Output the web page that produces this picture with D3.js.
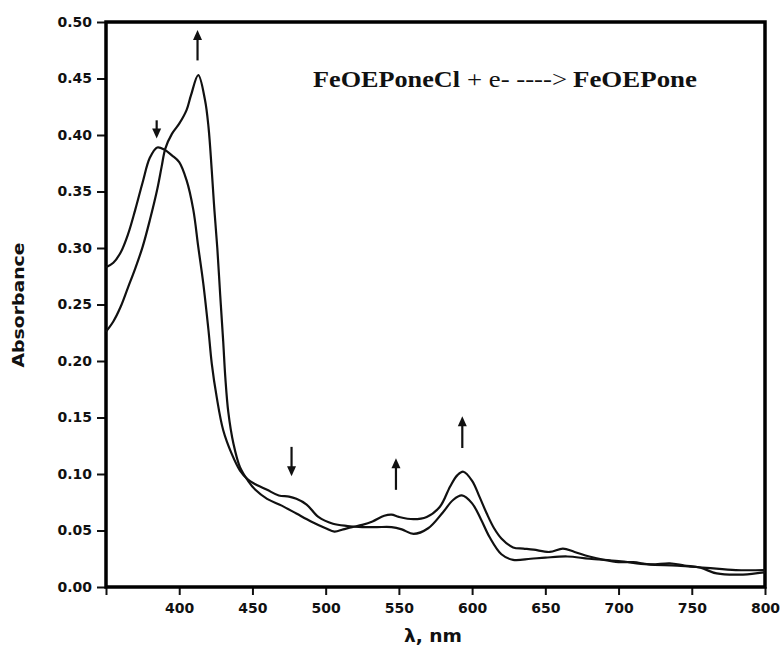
<!DOCTYPE html>
<html>
<head>
<meta charset="utf-8">
<script src="https://cdn.jsdelivr.net/npm/d3@7"></script>
<style>
  html, body { margin: 0; padding: 0; background: #fff; }
  svg { display: block; }
</style>
</head>
<body>
<svg id="chart" width="783" height="647"></svg>
<script>
// Wavelength (nm) and absorbance readings for the two spectra
const startWavelength = [350, 355, 360, 365, 370, 375, 380, 385, 390, 395, 400, 405, 409.6, 413, 416.4, 420, 422.2, 425.6, 430, 435.8, 441.5, 447, 452, 460, 468, 475, 480, 487, 495, 505, 515, 525, 535, 545, 552, 560, 570, 580, 587, 593, 600, 606, 612, 620, 628, 640, 650, 665, 680, 700, 720, 740, 760, 780, 800];
const startAbsorbance = [0.283, 0.287, 0.296, 0.312, 0.334, 0.358, 0.380, 0.389, 0.387, 0.382, 0.376, 0.360, 0.334, 0.301, 0.269, 0.227, 0.198, 0.168, 0.139, 0.118, 0.103, 0.095, 0.091, 0.086, 0.081, 0.080, 0.078, 0.073, 0.062, 0.056, 0.054, 0.053, 0.053, 0.053, 0.051, 0.047, 0.052, 0.066, 0.077, 0.081, 0.074, 0.060, 0.044, 0.029, 0.024, 0.025, 0.026, 0.027, 0.025, 0.023, 0.020, 0.019, 0.017, 0.015, 0.015];

const productWavelength = [350, 355, 360, 365, 370, 375, 380, 385, 388, 390.5, 395, 400, 405, 408, 413, 417.6, 420, 422.2, 424, 426, 428, 430, 431.5, 433.5, 437, 441.5, 447, 452, 460, 470, 480, 490, 500, 506, 512, 518, 525, 532, 540, 545, 550, 560, 569, 578, 585, 590, 594, 600, 605, 610, 615, 620, 628, 635, 642, 653, 662, 670, 680, 690, 700, 710, 722, 735, 745, 756, 767, 785, 800];
const productAbsorbance = [0.226, 0.235, 0.248, 0.265, 0.282, 0.301, 0.325, 0.352, 0.372, 0.388, 0.401, 0.410, 0.422, 0.435, 0.453, 0.431, 0.407, 0.369, 0.334, 0.300, 0.258, 0.218, 0.185, 0.155, 0.127, 0.106, 0.094, 0.086, 0.078, 0.072, 0.065, 0.058, 0.052, 0.049, 0.051, 0.053, 0.055, 0.058, 0.063, 0.064, 0.062, 0.060, 0.062, 0.071, 0.089, 0.099, 0.102, 0.094, 0.080, 0.065, 0.052, 0.043, 0.035, 0.034, 0.033, 0.031, 0.034, 0.031, 0.027, 0.024, 0.022, 0.022, 0.020, 0.021, 0.019, 0.017, 0.012, 0.011, 0.013];

// Arrows marking band changes: wavelength, tail and head absorbance
const arrowWavelength = [384.6, 412.5, 476.7, 548, 593.3];
const arrowTail = [0.413, 0.466, 0.124, 0.086, 0.123];
const arrowHead = [0.397, 0.493, 0.098, 0.114, 0.151];

const xTicks = [350, 400, 450, 500, 550, 600, 650, 700, 750, 800];
const xTickLabels = ["", "400", "450", "500", "550", "600", "650", "700", "750", "800"];
const yTicks = [0, 0.05, 0.10, 0.15, 0.20, 0.25, 0.30, 0.35, 0.40, 0.45, 0.50];

// Reaction equation: text, weight, left edge and fitted width
const titleParts = ["FeOEPoneCl", "+ e- ---->", "FeOEPone"];
const titleWeights = ["bold", "normal", "bold"];
const titleX = [313, 467, 573];
const titleWidth = [147, 100, 124];
const xTitle = "λ, nm";
const yTitle = "Absorbance";

const W = 783, H = 647;
const margin = { top: 22, right: 18, bottom: 60, left: 106 };

const svg = d3.select("#chart");
const x = d3.scaleLinear().domain([350, 800]).range([margin.left, W - margin.right]);
const y = d3.scaleLinear().domain([0, 0.5]).range([H - margin.bottom, margin.top]);

const tickFont = "'DejaVu Sans', Verdana, sans-serif";

// Y axis
const yAxis = svg.append("g")
  .attr("transform", `translate(${margin.left},0)`)
  .call(d3.axisLeft(y).tickValues(yTicks).tickFormat(d3.format(".2f")).tickSize(9).tickPadding(5));
yAxis.select(".domain").remove();
yAxis.selectAll("line").attr("stroke", "#111").attr("stroke-width", 2);
yAxis.selectAll("text").attr("fill", "#111").style("font-family", tickFont).style("font-size", "14px").style("font-weight", "bold");

// X axis
const xAxis = svg.append("g")
  .attr("transform", `translate(0,${H - margin.bottom})`)
  .call(d3.axisBottom(x).tickValues(xTicks).tickFormat((d, i) => xTickLabels[i]).tickSize(8).tickPadding(8));
xAxis.select(".domain").remove();
xAxis.selectAll("line").attr("stroke", "#111").attr("stroke-width", 2);
xAxis.selectAll("text").attr("fill", "#111").style("font-family", tickFont).style("font-size", "14px").style("font-weight", "bold");

// Plot frame
svg.append("rect")
  .attr("x", x(350)).attr("y", y(0.5))
  .attr("width", x(800) - x(350)).attr("height", y(0) - y(0.5))
  .attr("fill", "none").attr("stroke", "#000").attr("stroke-width", 3.5);

// Spectra
const line = d3.line().x(d => x(d[0])).y(d => y(d[1])).curve(d3.curveCatmullRom.alpha(0.5));
const spectra = [
  d3.zip(startWavelength, startAbsorbance),
  d3.zip(productWavelength, productAbsorbance)
];
svg.append("g").selectAll("path").data(spectra).join("path")
  .attr("d", line)
  .attr("fill", "none").attr("stroke", "#111").attr("stroke-width", 2.2)
  .attr("stroke-linejoin", "round");

// Arrows
const arrows = d3.range(arrowWavelength.length).map(i => ({
  x: x(arrowWavelength[i]), y0: y(arrowTail[i]), y1: y(arrowHead[i])
}));
const ag = svg.append("g").selectAll("g").data(arrows).join("g");
ag.append("line")
  .attr("x1", d => d.x).attr("x2", d => d.x)
  .attr("y1", d => d.y0)
  .attr("y2", d => d.y1 - Math.sign(d.y1 - d.y0) * 6)
  .attr("stroke", "#111").attr("stroke-width", 2.2);
ag.append("path")
  .attr("d", d => {
    const s = Math.sign(d.y1 - d.y0);
    return `M${d.x},${d.y1} L${d.x - 4.5},${d.y1 - s * 10} L${d.x + 4.5},${d.y1 - s * 10} Z`;
  })
  .attr("fill", "#111");

// Reaction equation
svg.append("g").selectAll("text").data(titleParts).join("text")
  .attr("x", (d, i) => titleX[i]).attr("y", 87)
  .attr("textLength", (d, i) => titleWidth[i]).attr("lengthAdjust", "spacingAndGlyphs")
  .style("font-family", "'Liberation Serif', 'Times New Roman', serif")
  .style("font-size", "23px")
  .style("font-weight", (d, i) => titleWeights[i])
  .attr("fill", "#111")
  .text(d => d);

// Axis titles
svg.append("text")
  .attr("x", 433).attr("y", 642)
  .attr("text-anchor", "middle")
  .attr("textLength", 58).attr("lengthAdjust", "spacingAndGlyphs")
  .style("font-family", tickFont).style("font-size", "17px").style("font-weight", "bold").attr("fill", "#111")
  .text(xTitle);

svg.append("text")
  .attr("transform", "translate(24,305) rotate(-90)")
  .attr("text-anchor", "middle")
  .attr("textLength", 125).attr("lengthAdjust", "spacingAndGlyphs")
  .style("font-family", tickFont).style("font-size", "15px").style("font-weight", "bold").attr("fill", "#111")
  .text(yTitle);
</script>
</body>
</html>
